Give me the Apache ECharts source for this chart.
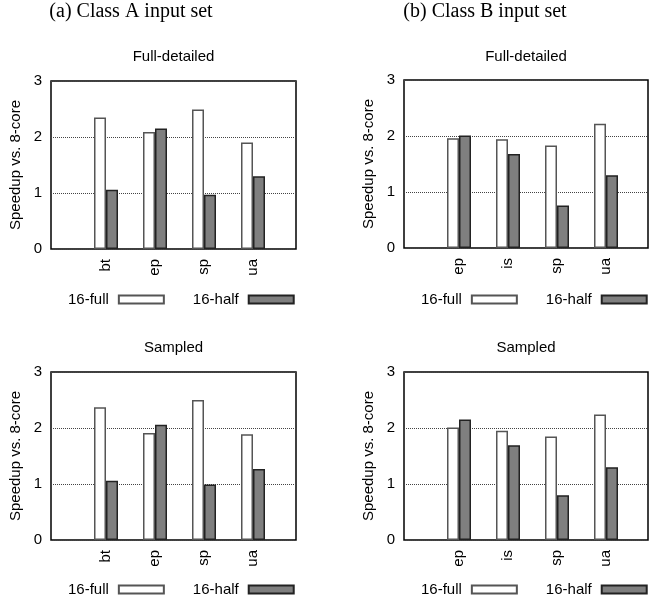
<!DOCTYPE html>
<html>
<head>
<meta charset="utf-8">
<script src="https://cdn.jsdelivr.net/npm/echarts@6/dist/echarts.min.js"></script>
<style>
html,body{margin:0;padding:0;background:#fff;}
#chart{width:649px;height:602px;}
</style>
</head>
<body>
<div id="chart"></div>
<script>
// ---- data ----
var catsA = ['bt', 'ep', 'sp', 'ua'];
var catsB = ['ep', 'is', 'sp', 'ua'];
var yTicks = [0, 1, 2, 3];
var seriesNames = ['16-full', '16-half'];
var panelTitles = ['Full-detailed', 'Full-detailed', 'Sampled', 'Sampled'];
var headers = ['(a) Class A input set', '(b) Class B input set'];
var yAxisName = 'Speedup vs. 8-core';

var detailedA_full = [2.35, 2.09, 2.49, 1.90];
var detailedA_half = [1.06, 2.15, 0.97, 1.30];
var detailedB_full = [1.96, 1.94, 1.83, 2.22];
var detailedB_half = [2.01, 1.68, 0.76, 1.30];
var sampledA_full = [2.37, 1.91, 2.50, 1.89];
var sampledA_half = [1.06, 2.06, 0.99, 1.27];
var sampledB_full = [2.01, 1.95, 1.85, 2.24];
var sampledB_half = [2.15, 1.69, 0.80, 1.30];

// ---- layout ----
var FONT = 'Liberation Sans';
var panels = [
  {left: 51, top: 81, width: 245, height: 168, cats: catsA, full: detailedA_full, half: detailedA_half, title: panelTitles[0], titleTop: 49, legendTop: 292},
  {left: 404, top: 80, width: 244, height: 168, cats: catsB, full: detailedB_full, half: detailedB_half, title: panelTitles[1], titleTop: 49, legendTop: 292},
  {left: 51, top: 372, width: 245, height: 168, cats: catsA, full: sampledA_full, half: sampledA_half, title: panelTitles[2], titleTop: 340, legendTop: 582},
  {left: 404, top: 372, width: 244, height: 168, cats: catsB, full: sampledB_full, half: sampledB_half, title: panelTitles[3], titleTop: 340, legendTop: 582}
];

var grid = [], xAxis = [], yAxis = [], series = [], title = [], legend = [];

title.push({text: headers[0], left: 131, top: 2, textAlign: 'center', padding: 0,
  textStyle: {fontFamily: 'Liberation Serif', fontSize: 20, fontWeight: 'normal', color: '#000'}});
title.push({text: headers[1], left: 485, top: 2, textAlign: 'center', padding: 0,
  textStyle: {fontFamily: 'Liberation Serif', fontSize: 20, fontWeight: 'normal', color: '#000'}});

var fullStyle = {color: '#ffffff', borderColor: '#555555', borderWidth: 1.5};
var halfStyle = {color: '#7f7f7f', borderColor: '#222222', borderWidth: 1.5};

panels.forEach(function (p, i) {
  // frame grid
  grid.push({left: p.left, top: p.top, width: p.width, height: p.height,
    show: true, borderColor: '#000', borderWidth: 1.5, backgroundColor: 'transparent'});
  title.push({text: p.title, left: p.left + p.width / 2, top: p.titleTop, textAlign: 'center', padding: 0,
    textStyle: {fontFamily: FONT, fontSize: 15, fontWeight: 'normal', color: '#000'}});
  legend.push({data: seriesNames, left: p.left + 17, top: p.legendTop, width: 232, padding: 0,
    orient: 'horizontal', align: 'right', icon: 'rect', itemWidth: 45, itemHeight: 8, itemGap: 28,
    selectedMode: false,
    textStyle: {fontFamily: FONT, fontSize: 15, color: '#000', padding: [0, 5, 0, 0]}});
});
panels.forEach(function (p, i) {
  // bar grid: 4 category slots of 49px
  grid.push({left: p.left + 30.5, top: p.top, width: 196, height: p.height, show: false});
});

panels.forEach(function (p, i) {
  xAxis.push({type: 'value', gridIndex: i, min: 0, max: 1, show: false});
  yAxis.push({type: 'value', gridIndex: i, min: yTicks[0], max: yTicks[yTicks.length - 1], interval: 1,
    axisLine: {show: false}, axisTick: {show: false},
    axisLabel: {fontFamily: FONT, fontSize: 15, color: '#000', margin: 9},
    splitLine: {show: true, lineStyle: {type: 'dotted', color: '#444', width: 1}},
    name: yAxisName, nameLocation: 'middle', nameGap: 28,
    nameTextStyle: {fontFamily: FONT, fontSize: 15, color: '#000'}});
});
panels.forEach(function (p, i) {
  xAxis.push({type: 'category', gridIndex: 4 + i, data: p.cats,
    axisLine: {show: false}, axisTick: {show: false},
    axisLabel: {rotate: 90, fontFamily: FONT, fontSize: 15, color: '#000', margin: 10},
    splitLine: {show: false}});
  yAxis.push({type: 'value', gridIndex: 4 + i, min: 0, max: 3, show: false});
  series.push({name: seriesNames[0], type: 'bar', xAxisIndex: 4 + i, yAxisIndex: 4 + i,
    data: p.full, barWidth: 12, barGap: '0%', itemStyle: fullStyle, silent: true, animation: false});
  series.push({name: seriesNames[1], type: 'bar', xAxisIndex: 4 + i, yAxisIndex: 4 + i,
    data: p.half, barWidth: 12, barGap: '0%', itemStyle: halfStyle, silent: true, animation: false});
});

var chart = echarts.init(document.getElementById('chart'), null, {renderer: 'canvas'});
chart.setOption({
  animation: false,
  backgroundColor: '#fff',
  title: title,
  legend: legend,
  grid: grid,
  xAxis: xAxis,
  yAxis: yAxis,
  series: series
});
</script>
</body>
</html>
